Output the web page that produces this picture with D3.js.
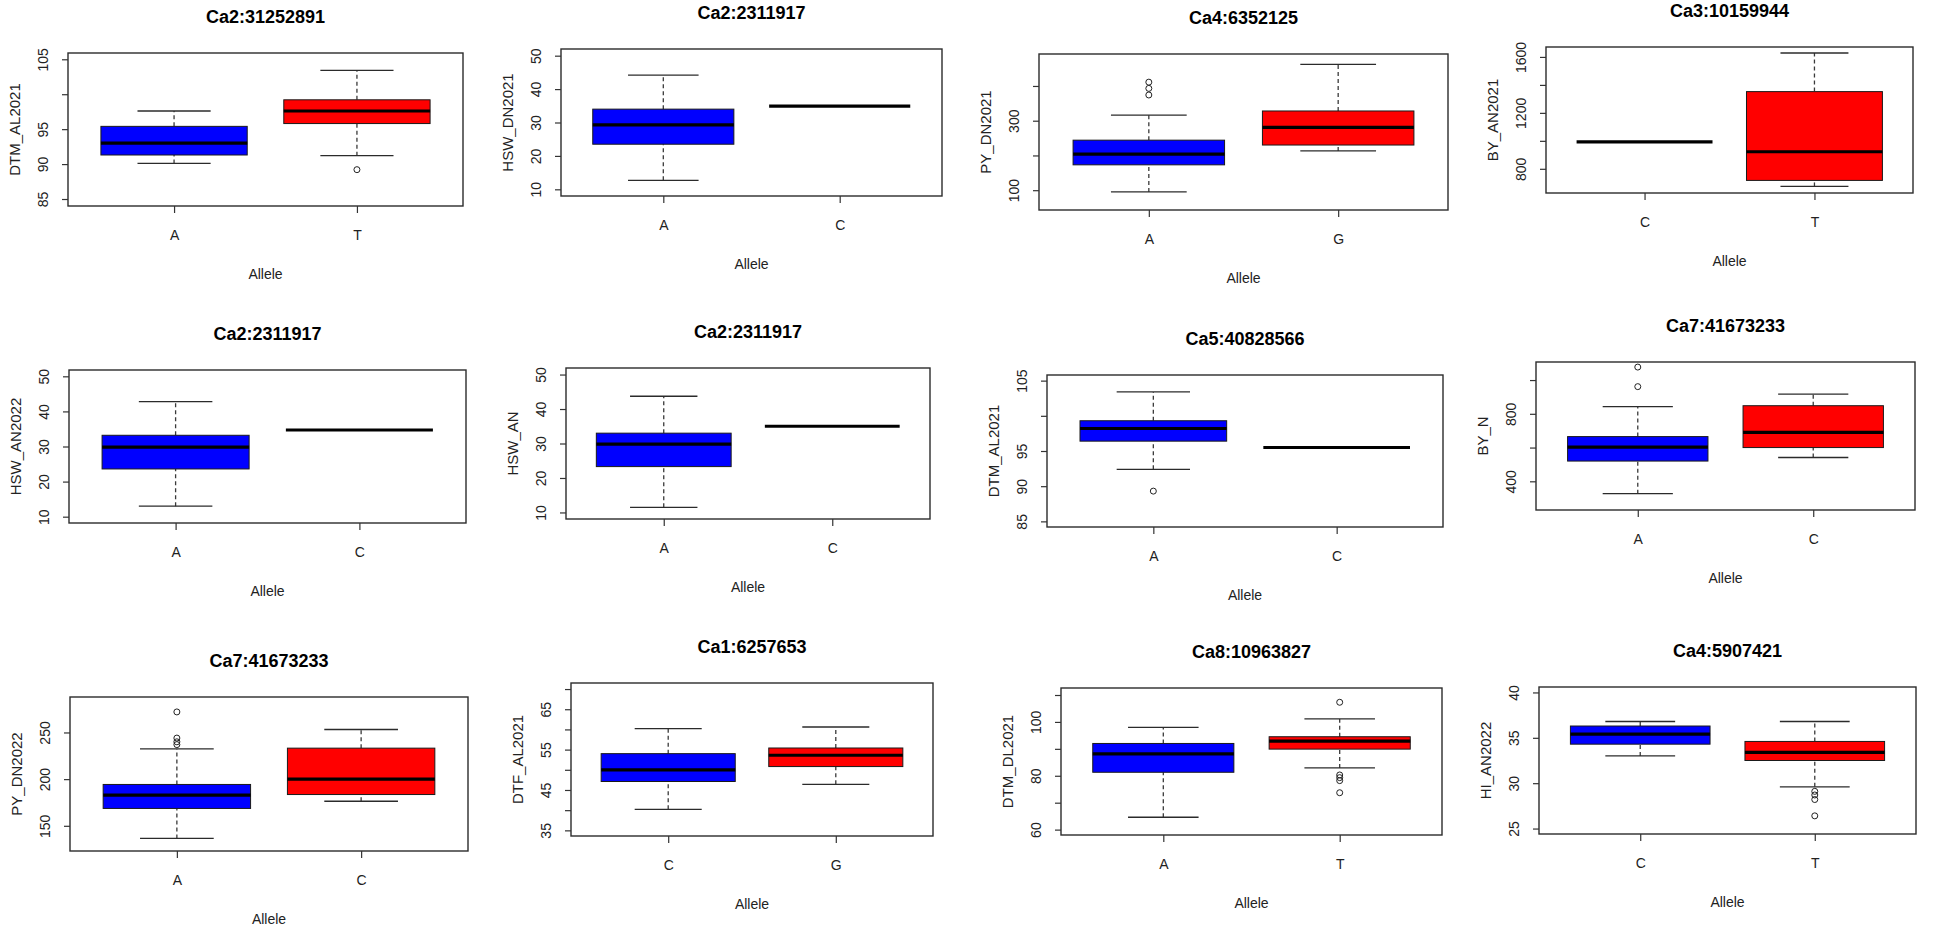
<!DOCTYPE html>
<html>
<head>
<meta charset="utf-8">
<script src="https://cdn.jsdelivr.net/npm/d3@7"></script>
<style>
  body { margin:0; background:#fff; }
  svg { display:block; font-family:"Liberation Sans", Arial, Helvetica, sans-serif; }
  .frame { fill:none; stroke:#2b2b2b; stroke-width:1.4; }
  .whisker { stroke:#3a3a3a; stroke-width:1.3; stroke-dasharray:4,3; }
  .cap { stroke:#2b2b2b; stroke-width:1.3; }
  .box { stroke:#1a1a1a; stroke-width:1; }
  .median { stroke:#000; stroke-width:3.2; }
  .outlier { fill:none; stroke:#222; stroke-width:1; }
  .title { font-weight:bold; font-size:18px; fill:#000; text-anchor:middle; }
  .ylab { font-size:15px; fill:#222; text-anchor:middle; }
  .xlab { font-size:14px; fill:#222; text-anchor:middle; }
</style>
</head>
<body>
<div id="chart"></div>
<script>
"use strict";
var titles = ["Ca2:31252891", "Ca2:2311917", "Ca4:6352125", "Ca3:10159944",
              "Ca2:2311917", "Ca2:2311917", "Ca5:40828566", "Ca7:41673233",
              "Ca7:41673233", "Ca1:6257653", "Ca8:10963827", "Ca4:5907421"];
var traits = ["DTM_AL2021", "HSW_DN2021", "PY_DN2021", "BY_AN2021",
              "HSW_AN2022", "HSW_AN", "DTM_AL2021", "BY_N",
              "PY_DN2022", "DTF_AL2021", "DTM_DL2021", "HI_AN2022"];
var alleles = [["A","T"], ["A","C"], ["A","G"], ["C","T"],
               ["A","C"], ["A","C"], ["A","C"], ["A","C"],
               ["A","C"], ["C","G"], ["A","T"], ["C","T"]];

// low whisker, q1, median, q3, high whisker
var statsFirst = [
  [90.1, 91.3, 93.0, 95.4, 97.6],
  [12.7, 23.5, 29.3, 34.0, 44.2],
  [95, 173, 204, 244, 316],
  [993, 993, 993, 993, 993],
  [13.0, 23.6, 29.8, 33.2, 42.8],
  [11.5, 23.3, 29.8, 33.0, 43.7],
  [92.4, 96.4, 98.2, 99.3, 103.4],
  [327, 520, 602, 665, 843],
  [136.5, 168.6, 182.9, 194.3, 232.4],
  [40.2, 47.1, 50.0, 54.0, 60.2],
  [64.6, 81.3, 88.1, 92.0, 98.0],
  [33.0, 34.3, 35.4, 36.3, 36.8]
];
var statsSecond = [
  [91.2, 95.8, 97.6, 99.2, 103.4],
  [34.9, 34.9, 34.9, 34.9, 34.9],
  [213, 230, 281, 328, 462],
  [674, 717, 922, 1352, 1628],
  [34.7, 34.7, 34.7, 34.7, 34.7],
  [35.0, 35.0, 35.0, 35.0, 35.0],
  [95.5, 95.5, 95.5, 95.5, 95.5],
  [541, 600, 690, 848, 917],
  [176.3, 183.5, 200, 233.2, 253.2],
  [46.4, 50.8, 53.6, 55.4, 60.6],
  [82.9, 89.9, 92.9, 94.5, 101.1],
  [29.6, 32.5, 33.4, 34.6, 36.8]
];
var outFirst = [[], [], [374, 393, 411], [], [], [], [89.3], [961, 1077],
                [237, 240, 244, 272], [], [], []];
var outSecond = [[89.2], [], [], [], [], [], [], [],
                 [], [], [73.7, 78.2, 79.3, 80.3, 107.3], [26.4, 28.2, 28.7, 29.1]];

var yTicks = [
  [85, 90, 95, 100, 105], [10, 20, 30, 40, 50], [100, 200, 300, 400], [800, 1000, 1200, 1400, 1600],
  [10, 20, 30, 40, 50], [10, 20, 30, 40, 50], [85, 90, 95, 100, 105], [400, 600, 800, 1000],
  [150, 200, 250], [35, 40, 45, 50, 55, 60, 65, 70], [60, 70, 80, 90, 100, 110], [25, 30, 35, 40]
];
// labels R kept after dropping overlapping ones
var yTickLabels = [
  [85, 90, 95, 105], [10, 20, 30, 40, 50], [100, 300], [800, 1200, 1600],
  [10, 20, 30, 40, 50], [10, 20, 30, 40, 50], [85, 90, 95, 105], [400, 800],
  [150, 200, 250], [35, 45, 55, 65], [60, 80, 100], [25, 30, 35, 40]
];
var yDomains = [
  [84.0, 105.9], [8.0, 52.0], [43, 492], [627, 1671],
  [8.2, 51.8], [8.1, 51.9], [84.2, 105.8], [230, 1107],
  [123, 288], [33.6, 71.5], [58, 112.6], [24.4, 40.6]
];

// plot frame of each panel: left, top, right, bottom (the source is a pasted grid)
var frames = [
  [68, 53, 463, 206], [561, 49, 942, 196], [1039, 54, 1448, 210], [1546, 47, 1913, 193],
  [69, 370, 466, 523], [566, 368, 930, 519], [1047, 375, 1443, 527], [1536, 362, 1915, 510],
  [70, 697, 468, 851], [571, 683, 933, 836], [1061, 688, 1442, 835], [1539, 687, 1916, 834]
];
var fills = ["#0000ff", "#ff0000"];

var svg = d3.select("#chart").append("svg")
    .attr("width", 1949)
    .attr("height", 936);

titles.forEach(function(title, i){
  var f = frames[i];
  var x = d3.scaleLinear().domain([0.42, 2.58]).range([f[0], f[2]]);
  var y = d3.scaleLinear().domain(yDomains[i]).range([f[3], f[1]]);
  var g = svg.append("g").attr("class", "panel");

  var groups = [0, 1].map(function(k){
    return {
      pos: k + 1,
      s: k ? statsSecond[i] : statsFirst[i],
      out: k ? outSecond[i] : outFirst[i],
      fill: fills[k]
    };
  });

  var grp = g.selectAll(".grp")
      .data(groups).enter()
      .append("g").attr("class", "grp");

  //whiskers
  grp.append("line").attr("class", "whisker")
      .attr("x1", function(d){ return x(d.pos); })
      .attr("x2", function(d){ return x(d.pos); })
      .attr("y1", function(d){ return y(d.s[3]); })
      .attr("y2", function(d){ return y(d.s[4]); });
  grp.append("line").attr("class", "whisker")
      .attr("x1", function(d){ return x(d.pos); })
      .attr("x2", function(d){ return x(d.pos); })
      .attr("y1", function(d){ return y(d.s[0]); })
      .attr("y2", function(d){ return y(d.s[1]); });

  //staples
  [0, 4].forEach(function(j){
    grp.append("line").attr("class", "cap")
        .attr("x1", function(d){ return x(d.pos - 0.2); })
        .attr("x2", function(d){ return x(d.pos + 0.2); })
        .attr("y1", function(d){ return y(d.s[j]); })
        .attr("y2", function(d){ return y(d.s[j]); });
  });

  //box
  grp.append("rect").attr("class", "box")
      .attr("x", function(d){ return x(d.pos - 0.4); })
      .attr("width", function(d){ return x(d.pos + 0.4) - x(d.pos - 0.4); })
      .attr("y", function(d){ return y(d.s[3]); })
      .attr("height", function(d){ return y(d.s[1]) - y(d.s[3]); })
      .style("fill", function(d){ return d.fill; });

  //median
  grp.append("line").attr("class", "median")
      .attr("x1", function(d){ return x(d.pos - 0.4); })
      .attr("x2", function(d){ return x(d.pos + 0.4); })
      .attr("y1", function(d){ return y(d.s[2]); })
      .attr("y2", function(d){ return y(d.s[2]); });

  //outliers
  grp.selectAll(".outlier")
      .data(function(d){ return d.out.map(function(v){ return {pos: d.pos, v: v}; }); })
      .enter().append("circle").attr("class", "outlier")
      .attr("cx", function(d){ return x(d.pos); })
      .attr("cy", function(d){ return y(d.v); })
      .attr("r", 3);

  //frame
  g.append("rect").attr("class", "frame")
      .attr("x", x.range()[0])
      .attr("y", y.range()[1])
      .attr("width", x.range()[1] - x.range()[0])
      .attr("height", y.range()[0] - y.range()[1]);

  //y axis
  var yAxis = g.append("g")
      .attr("transform", "translate(" + x.range()[0] + ",0)")
      .attr("color", "#333")
      .call(d3.axisLeft(y).tickValues(yTicks[i]).tickSize(6)
        .tickFormat(function(d){ return yTickLabels[i].indexOf(d) > -1 ? d : ""; }));
  yAxis.select(".domain").remove();
  yAxis.selectAll("line").attr("stroke-width", 1.2);
  yAxis.selectAll("text")
      .attr("x", null).attr("dy", null)
      .attr("transform", "translate(-20,0) rotate(-90)")
      .attr("text-anchor", "middle")
      .attr("font-size", 14)
      .attr("font-family", "Liberation Sans, Arial, sans-serif")
      .attr("fill", "#222");

  //x axis
  var xAxis = g.append("g")
      .attr("transform", "translate(0," + y.range()[0] + ")")
      .attr("color", "#333")
      .call(d3.axisBottom(x).tickValues([1, 2]).tickSize(7)
        .tickFormat(function(d){ return alleles[i][d - 1]; }));
  xAxis.select(".domain").remove();
  xAxis.selectAll("line").attr("stroke-width", 1.2);
  xAxis.selectAll("text")
      .attr("y", 34).attr("dy", null)
      .attr("font-size", 14)
      .attr("font-family", "Liberation Sans, Arial, sans-serif")
      .attr("fill", "#222");

  var cx = (x.range()[0] + x.range()[1]) / 2,
      cy = (y.range()[0] + y.range()[1]) / 2;

  //labels
  g.append("text").attr("class", "title")
      .attr("x", cx).attr("y", y.range()[1] - 30)
      .text(title);
  g.append("text").attr("class", "xlab")
      .attr("x", cx).attr("y", y.range()[0] + 73)
      .text("Allele");
  g.append("text").attr("class", "ylab")
      .attr("transform", "translate(" + (x.range()[0] - 48) + "," + cy + ") rotate(-90)")
      .text(traits[i]);
});
</script>
</body>
</html>
